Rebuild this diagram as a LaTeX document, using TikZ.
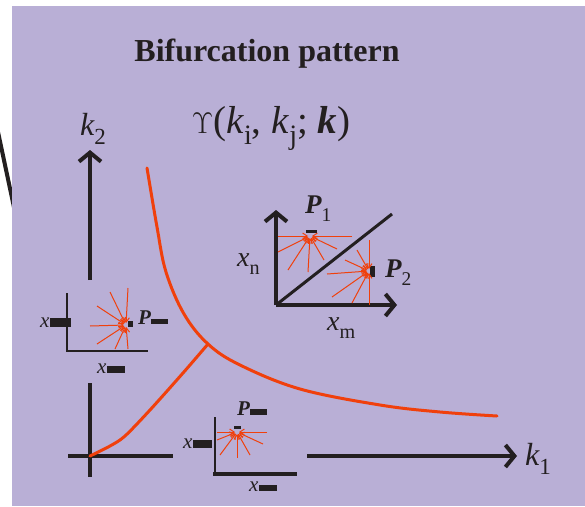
\documentclass[tikz,border=0pt]{standalone}
\usepackage{graphicx}
\usepackage{fontspec}
\setmainfont{Liberation Serif}
\usetikzlibrary{positioning,arrows.meta}
\definecolor{panelpurple}{HTML}{B9AFD6}
\definecolor{curvered}{HTML}{F0400C}
\definecolor{inkblack}{HTML}{231F20}
\newcommand\lowsub[1]{\raisebox{-0.3em}{\scalebox{0.72}{#1}}}
\newcommand\redact[2]{\textcolor{inkblack}{\rule{#1}{#2}}}

\begin{document}
\begin{tikzpicture}[x=1pt,y=-1pt,
    axis/.style={line width=4pt, draw=inkblack},
    axarr/.style={axis, -{Straight Barb[length=9pt,width=22pt]}},
    inset/.style={line width=2pt, draw=inkblack},
    curve/.style={draw=curvered, line width=3pt, line cap=round},
    flow/.style={draw=curvered, line width=1pt,
                 -{Straight Barb[length=4.5pt,width=6pt]}, shorten >=2pt},
    lbl/.style={inner sep=0pt, text=inkblack, anchor=base west,
                font=\fontsize{#1}{#1}\selectfont\itshape},
    plbl/.style={lbl=#1, font=\fontsize{#1}{#1}\selectfont\bfseries\itshape},
    pt/.style={fill=inkblack, inner sep=0pt, rectangle}
  ]
  \useasboundingbox (0,0) rectangle (585,506);
  \draw[line width=4pt, inkblack] (-2,132) -- (15,212);
  \fill[panelpurple] (12,6) rectangle (585,506);

  % heading
  \node[inner sep=0pt, anchor=base, text=inkblack,
        font=\fontsize{32}{32}\selectfont\bfseries] (title) at (267,61)
        {Bifurcation pattern};
  \node[inner sep=0pt, anchor=base, text=inkblack,
        font=\fontsize{39}{39}\selectfont] (upsi) at (271,133)
        {\scalebox{1.2}{$\Upsilon$}(\textit{k}\lowsub{i}, \textit{k}\lowsub{j}; \textbf{\textit{k}})};

  % main axes
  \coordinate (o) at (90,456);
  \node[lbl=32] (k2) at (80,135) {k\lowsub{\upshape 2}};
  \node[lbl=32] (k1) at (525,465) {k\lowsub{\upshape 1}};
  \draw[axarr] (90,280) -- (90,150);
  \draw[axis] (90,383) -- (90,477);
  \draw[axis] (68,456) -- (173,456);
  \draw[axarr] (307,456) -- (517,456);

  % bifurcation curves
  \coordinate (bif) at (208,344);
  \draw[curve] plot[smooth, tension=0.6] coordinates {(147,168) (157,227)
    (166,272) (184,314) (bif) (240,365) (300,389) (380,405) (440,412) (497,416)};
  \draw[curve] plot[smooth, tension=0.5] coordinates {(o) (110,446) (125,436)
    (150,410) (183,373) (bif)};

  % inset: upper left
  \draw[inset] (67,293) -- (67,351) -- (148,351);
  \node[pt, minimum width=5pt, minimum height=6pt] (pa) at (130.5,324) {};
  \coordinate (ca) at (126,325);
  \foreach \dx/\dy in {-36/1,-29/-19,-16/-33,2/-37,-29/19,-11/24,2/24}
    \draw[flow] (ca) ++(\dx,\dy) -- (ca);
  \node[lbl=21] (xa) at (40,327) {x\redact{21pt}{9pt}};
  \node[lbl=21] (xb) at (97,373) {x\redact{18pt}{7pt}};
  \node[plbl=21] (pla) at (138,324) {P\redact{17pt}{5pt}};

  % inset: bottom
  \draw[inset] (215,417) -- (215,475);
  \draw[axis] (213,474) -- (297,474);
  \node[pt, minimum width=7pt, minimum height=3pt] (pb) at (237.5,427.5) {};
  \coordinate (cb) at (237,432);
  \foreach \dx/\dy in {-20/0,30/0,-17/23,0/26,13/23,26/12,-20/8}
    \draw[flow] (cb) ++(\dx,\dy) -- (cb);
  \node[lbl=21] (xc) at (183,448) {x\redact{19pt}{8pt}};
  \node[lbl=21] (xd) at (249,491) {x\redact{18pt}{6pt}};
  \node[plbl=21] (plb) at (237,415) {P\redact{17pt}{6pt}};

  % inset: two equilibria
  \coordinate (oc) at (276,305);
  \draw[axarr] (oc) -- (276,210);
  \draw[axarr] (oc) -- (397,305);
  \draw[line width=3pt, inkblack] (oc) -- (392,214);
  \node[pt, minimum width=11pt, minimum height=3pt] (p1) at (311.5,231.5) {};
  \node[pt, minimum width=5pt, minimum height=11pt] (p2) at (372,271) {};
  \coordinate (c1) at (310,236);
  \coordinate (c2) at (369,271);
  \foreach \dx/\dy in {-32/0,42/0,-32/16,-22/34,-2/36,14/24,27/13}
    \draw[flow] (c1) ++(\dx,\dy) -- (c1);
  \foreach \dx/\dy in {-42/3,-24/-11,-12/-21,0/-31,0/34,-37/26,-17/32}
    \draw[flow] (c2) ++(\dx,\dy) -- (c2);
  \node[lbl=28] (xn) at (237,266) {x\lowsub{\upshape n}};
  \node[lbl=28] (xm) at (327,330) {x\lowsub{\upshape m}};
  \node[plbl=27] (P1) at (305,213) {P\lowsub{\upshape\mdseries 1}};
  \node[plbl=27] (P2) at (385,277) {P\lowsub{\upshape\mdseries 2}};
\end{tikzpicture}
\end{document}
